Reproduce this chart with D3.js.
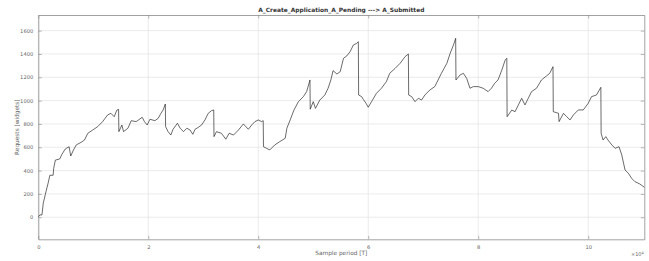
<html>
  <head>
    <meta charset="utf-8" />
    <script src="https://d3js.org/d3.v7.min.js"></script>
    <style>
      body { margin: 0; background: #fff; }
      text { font-family: "DejaVu Sans", sans-serif; }
    </style>
  </head>
  <body>
    <div class="container"></div>
  </body>
</html>

<script>
  // samples (x) and requests (y)
  const samples = [
    0, 300, 670, 900, 1400, 1800, 2100, 2700, 2800, 3100, 3900, 4300, 4900, 5600, 5900, 6400, 6900, 7800, 8400, 9000,
    9900, 10800, 11700, 12600, 13200, 13800, 14300, 14600, 14650, 15200, 15500, 16300, 16900, 17800, 18900, 19300,
    19800, 20300, 21200, 21800, 22300, 22700, 23100, 23150, 23600, 24100, 24500, 25300, 25800, 26400, 27000, 27600,
    28100, 28500, 29100, 29700, 30300, 30900, 31500, 31900, 31950, 32400, 33300, 34100, 34700, 35500, 36400, 37300,
    38200, 38800, 39400, 40000, 40600, 40900, 40950, 41500, 42100, 43000, 43900, 44900, 45200, 45800, 46500, 47300,
    48200, 48800, 49400, 49450, 50000, 50400, 51200, 52100, 52700, 53200, 53600, 54300, 54900, 55500, 56100, 56700,
    57300, 57900, 58200, 58250, 58800, 59100, 59600, 60000, 60600, 61500, 62400, 63300, 63900, 64900, 65800, 66700,
    67300, 67350, 67900, 68500, 69100, 69700, 70300, 71200, 72100, 72700, 73300, 74300, 74900, 75500, 75900, 75950,
    76700, 77300, 77900, 78500, 79100, 80000, 80900, 81800, 82400, 83000, 83600, 84300, 84900, 85200, 85250, 86100,
    86700, 87300, 87900, 88500, 89100, 89700, 90600, 91500, 92400, 93000, 93600, 93650, 94600, 94700, 95500, 96100,
    96700, 97300, 98200, 99100, 100000, 100600, 101500, 102300, 102350, 102700, 103200, 103600, 104300, 104900,
    105600, 106100, 106700, 107300, 107900, 108500, 109400, 110200
  ];
  const requests = [
    5, 20, 20, 120, 220, 295, 360, 360, 420, 490, 500, 540, 585, 605, 525, 577, 620, 643, 662, 720,
    748, 777, 820, 877, 891, 862, 919, 925, 734, 791, 734, 763, 828, 820, 857, 820,
    791, 840, 828, 848, 891, 920, 971, 777, 734, 705, 754, 806, 763, 734, 763, 748,
    711, 754, 771, 791, 834, 891, 914, 920, 691, 734, 720, 669, 720, 705, 748, 800,
    754, 791, 820, 834, 820, 828, 605, 591, 577, 620, 648, 677, 763, 834, 920, 991,
    1034, 1077, 1177, 926, 991, 934, 1005, 1048, 1106, 1177, 1257, 1228, 1248, 1363, 1383, 1420,
    1477, 1491, 1505, 1048, 1034, 1011, 977, 943, 991, 1063, 1106, 1163, 1234, 1277, 1320, 1377,
    1400, 1048, 1034, 991, 1020, 1005, 1048, 1091, 1120, 1177, 1234, 1320, 1406, 1477, 1534, 1177,
    1220, 1234, 1191, 1106, 1120, 1120, 1106, 1077, 1106, 1149, 1177, 1263, 1348, 1363, 862, 919,
    905, 963, 1020, 963, 1020, 1077, 1106, 1177, 1211, 1234, 1291, 905, 891, 820, 891, 862,
    834, 877, 920, 920, 977, 1034, 1048, 1114, 720, 662, 691, 662, 620, 591,
    605, 534, 405, 377, 334, 305, 285, 257
  ];
  const xTicks = [0, 20000, 40000, 60000, 80000, 100000];
  const yTicks = [0, 200, 400, 600, 800, 1000, 1200, 1400, 1600];

  const width = 649;
  const height = 261;
  const margin = { top: 15, right: 4.7, bottom: 21.7, left: 38.3 };
  const iw = width - margin.left - margin.right;
  const ih = height - margin.top - margin.bottom;

  const svg = d3
    .select(".container")
    .append("svg")
    .attr("width", width)
    .attr("height", height);

  const x = d3.scaleLinear().domain([0, 110200]).range([0, iw]);
  const y = d3.scaleLinear().domain([-189, 1734]).range([ih, 0]);

  const g = svg
    .append("g")
    .attr("transform", `translate(${margin.left},${margin.top})`);

  // grid
  g.append("g")
    .attr("stroke", "#dedede")
    .attr("stroke-width", 0.6)
    .selectAll("line.gx")
    .data(xTicks)
    .join("line")
    .attr("x1", (d) => x(d))
    .attr("x2", (d) => x(d))
    .attr("y1", 0)
    .attr("y2", ih);
  g.append("g")
    .attr("stroke", "#dedede")
    .attr("stroke-width", 0.6)
    .selectAll("line.gy")
    .data(yTicks)
    .join("line")
    .attr("x1", 0)
    .attr("x2", iw)
    .attr("y1", (d) => y(d))
    .attr("y2", (d) => y(d));

  // axes
  const fmtX = (d) => d / 10000;
  const xAxis = g
    .append("g")
    .attr("transform", `translate(0,${ih})`)
    .call(d3.axisBottom(x).tickValues(xTicks).tickFormat(fmtX).tickSizeInner(-3.5).tickSizeOuter(0).tickPadding(6));
  const xTop = g
    .append("g")
    .call(d3.axisTop(x).tickValues(xTicks).tickFormat("").tickSizeInner(-3.5).tickSizeOuter(0));
  const yAxis = g
    .append("g")
    .call(d3.axisLeft(y).tickValues(yTicks).tickFormat(d3.format("d")).tickSizeInner(-3.5).tickSizeOuter(0).tickPadding(5));
  const yRight = g
    .append("g")
    .attr("transform", `translate(${iw},0)`)
    .call(d3.axisRight(y).tickValues(yTicks).tickFormat("").tickSizeInner(-3.5).tickSizeOuter(0));

  [xAxis, xTop, yAxis, yRight].forEach((a) => {
    a.select(".domain").attr("stroke", "#8a8a8a").attr("stroke-width", 0.8);
    a.selectAll(".tick line").attr("stroke", "#8a8a8a").attr("stroke-width", 0.6);
    a.selectAll(".tick text")
      .attr("fill", "#666")
      .attr("font-size", 5.2)
      .attr("font-family", "DejaVu Sans, sans-serif");
  });

  // line
  const line = d3
    .line()
    .x((d, i) => x(samples[i]))
    .y((d) => y(d));
  g.append("path")
    .datum(requests)
    .attr("fill", "none")
    .attr("stroke", "#1a1a1a")
    .attr("stroke-width", 0.65)
    .attr("stroke-linejoin", "round")
    .attr("d", line);

  // labels
  svg.append("text")
    .attr("x", margin.left + iw / 2)
    .attr("y", 12.3)
    .attr("text-anchor", "middle")
    .attr("font-size", 5.9)
    .attr("font-weight", "bold")
    .attr("fill", "#333")
    .text("A_Create_Application_A_Pending ---> A_Submitted");

  svg.append("text")
    .attr("x", margin.left + iw / 2)
    .attr("y", 254.6)
    .attr("text-anchor", "middle")
    .attr("font-size", 5.8)
    .attr("fill", "#666")
    .text("Sample period [T]");

  svg.append("text")
    .attr("transform", `translate(19,${margin.top + ih / 2}) rotate(-90)`)
    .attr("text-anchor", "middle")
    .attr("font-size", 5.8)
    .attr("fill", "#666")
    .text("Requests [widgets]");

  const mult = svg.append("text")
    .attr("x", 631)
    .attr("y", 256)
    .attr("font-size", 5)
    .attr("fill", "#666");
  mult.append("tspan").text("\u00d710");
  mult.append("tspan").attr("dy", -2.3).attr("font-size", 3.6).text("4");
</script>
